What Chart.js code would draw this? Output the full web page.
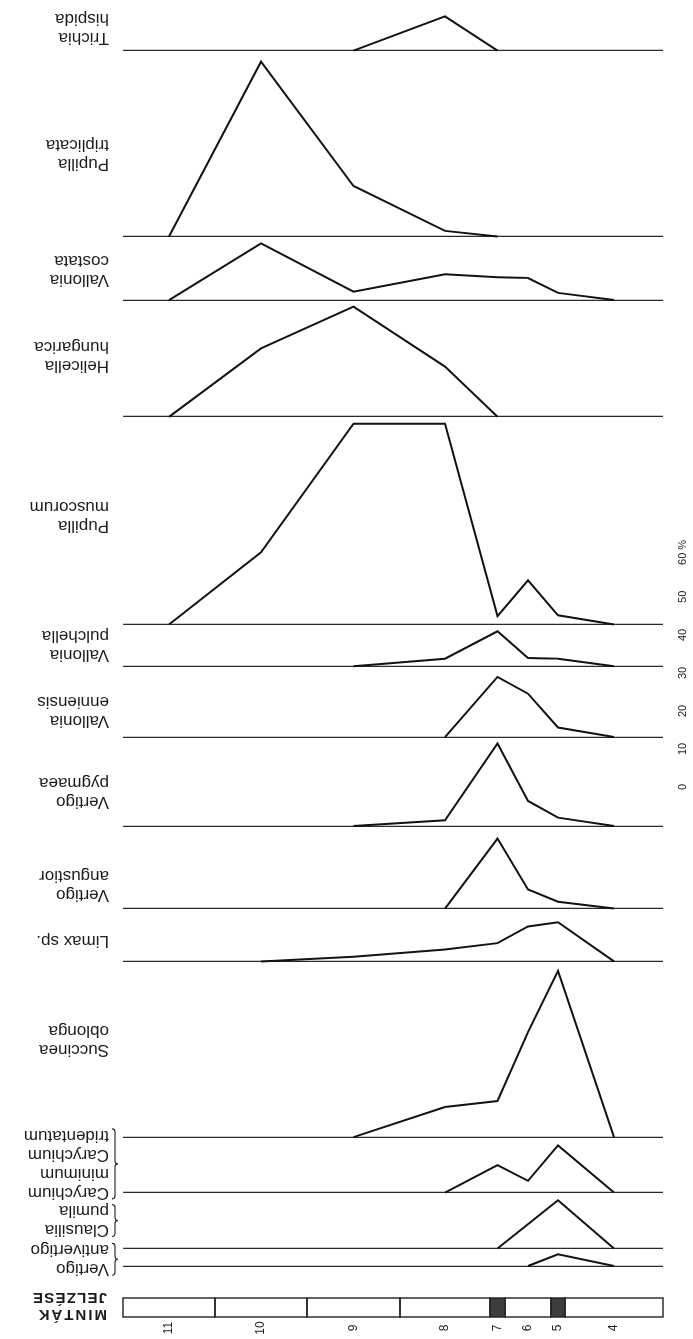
<!DOCTYPE html>
<html lang="hu">
<head>
<meta charset="utf-8">
<title>Csigafauna megoszlása a mintákban</title>
<script src="https://cdn.jsdelivr.net/npm/chart.js@4.4.1/dist/chart.umd.min.js"></script>
<style>
  html, body { margin: 0; padding: 0; background: #fff; }
  #wrap { width: 693px; height: 1339px; transform: rotate(180deg); }
  canvas { display: block; }
</style>
</head>
<body>
<div id="wrap"><canvas id="c" width="693" height="1339"></canvas></div>
<script>
// Sample designations of the profile and the thickness of each layer
const samples = ['4', '5', '6', '7', '8', '9', '10', '11'];
const layerThickness = [98, 14, 46, 15, 90, 93, 92, 92];
const darkLayers = ['5', '7'];

// Percentage of each taxon per sample (same order as `samples`; null = absent)
const vertigoAntivertigo = [0, 3.1, 0, null, null, null, null, null];
const clausiliaPumila    = [0, 12.7, null, 0, null, null, null, null];
const carychium          = [0, 12.4, 3.1, 7.2, 0, null, null, null];
const succineaOblonga    = [0, 43.7, 27.6, 9.5, 7.9, 0, null, null];
const limaxSp            = [0, 10.3, 9.2, 4.8, 3.1, 1.2, 0, null];
const vertigoAngustior   = [0, 1.8, 5.0, 18.4, 0, null, null, null];
const vertigoPygmaea     = [0, 2.2, 6.6, 21.7, 1.5, 0, null, null];
const valloniaEnniensis  = [0, 2.5, 11.4, 15.8, 0, null, null, null];
const valloniaPulchella  = [0, 2.0, 2.2, 9.2, 2.0, 0, null, null];
const pupillaMuscorum    = [0, 2.4, 11.6, 2.2, 52.8, 52.8, 19.0, 0];
const helicellaHungarica = [null, null, null, 0, 13.2, 29.0, 18.0, 0];
const valloniaCostata    = [0, 1.9, 5.8, 6.0, 6.8, 2.2, 14.9, 0];
const pupillaTriplicata  = [null, null, null, 0, 1.5, 13.3, 46.0, 0];
const trichiaHispida     = [null, null, null, 0, 9.0, 0, null, null];

// Percent scale bar
const scaleTicks = [0, 10, 20, 30, 40, 50, 60];

// Taxon names (line breaks as printed)
const taxonNames = [
  'Vertigo\nantivertigo', 'Clausilia\npumila', 'Carychium\nminimum\nCarychium\ntridentatum',
  'Succinea\noblonga', 'Limax sp.', 'Vertigo\nangustior', 'Vertigo\npygmaea',
  'Vallonia\nenniensis', 'Vallonia\npulchella', 'Pupilla\nmuscorum', 'Helicella\nhungarica',
  'Vallonia\ncostata', 'Pupilla\ntriplicata', 'Trichia\nhispida'
];
const taxonValues = [
  vertigoAntivertigo, clausiliaPumila, carychium, succineaOblonga, limaxSp,
  vertigoAngustior, vertigoPygmaea, valloniaEnniensis, valloniaPulchella,
  pupillaMuscorum, helicellaHungarica, valloniaCostata, pupillaTriplicata, trichiaHispida
];

// ---- layout / style ----
// Height (in %) reserved for each taxon strip, top to bottom
const stripRange = [4.6, 14.7, 14.6, 46.2, 13.9, 21.7, 23.4, 18.6, 11.0, 54.6, 30.7, 16.7, 48.9, 12.0];
const braced = [true, true, true];           // first three taxa carry a brace
const labelNudge = [-2, 0, 1, 9, -6, -18, -11, -10, 0, 4, 2, -2, -11, 0];
const LABEL_X = 584, LINE_H = 19;
const INK = '#1c1c1c';

// layer boundaries and sample positions along the column
const layerStart = [];
let acc = 0;
layerThickness.forEach(t => { layerStart.push(acc); acc += t; });
const columnLength = acc;
const samplePos = layerThickness.map((t, i) => layerStart[i] + t / 2);

const datasets = taxonValues.map((vals, i) => ({
  type: 'line',
  label: taxonNames[i].replace(/\n/g, ' '),
  data: vals.map((v, j) => ({ x: samplePos[j], y: v })),
  xAxisID: 'x',
  yAxisID: 'p' + i,
  borderColor: '#121212',
  borderWidth: 2,
  pointRadius: 0,
  tension: 0,
  spanGaps: true,
  fill: false,
  clip: false
}));

const scales = { x: { type: 'linear', min: 0, max: columnLength, display: false } };
taxonValues.forEach((_, i) => {
  scales['p' + i] = {
    type: 'linear',
    position: 'right',
    stack: 'taxa',
    stackWeight: stripRange[i],
    min: 0,
    max: stripRange[i],
    reverse: true,
    ticks: { display: false },
    border: { display: false },
    grid: {
      drawTicks: false,
      lineWidth: 1.2,
      color: c => (c.tick && c.tick.value === 0) ? '#2a2a2a' : 'rgba(0,0,0,0)'
    }
  };
});

function brace(ctx, x, y1, y2, w) {
  const ym = (y1 + y2) / 2;
  ctx.beginPath();
  ctx.moveTo(x + w, y1);
  ctx.quadraticCurveTo(x, y1, x, y1 + w);
  ctx.lineTo(x, ym - w);
  ctx.quadraticCurveTo(x, ym, x - w, ym);
  ctx.quadraticCurveTo(x, ym, x, ym + w);
  ctx.lineTo(x, y2 - w);
  ctx.quadraticCurveTo(x, y2, x + w, y2);
  ctx.stroke();
}

const decor = {
  id: 'decor',
  afterDraw(chart) {
    const ctx = chart.ctx;
    const xs = chart.scales.x;
    ctx.save();

    // sample column
    const boxTop = 22, boxBottom = 41;
    ctx.lineWidth = 1.4;
    ctx.strokeStyle = '#222';
    samples.forEach((s, i) => {
      const a = xs.getPixelForValue(layerStart[i]);
      const b = xs.getPixelForValue(layerStart[i] + layerThickness[i]);
      if (darkLayers.includes(s)) {
        ctx.fillStyle = '#3d3d3d';
        ctx.fillRect(a, boxTop, b - a, boxBottom - boxTop);
      }
      ctx.strokeRect(a, boxTop, b - a, boxBottom - boxTop);
    });

    // sample numbers
    ctx.fillStyle = INK;
    ctx.font = '12px "Liberation Sans", Arial, sans-serif';
    ctx.textAlign = 'center';
    ctx.textBaseline = 'middle';
    samples.forEach((s, i) => {
      ctx.save();
      ctx.translate(xs.getPixelForValue(samplePos[i]), 11);
      ctx.rotate(Math.PI / 2);
      ctx.fillText(s, 0, 0);
      ctx.restore();
    });

    // column heading
    ctx.font = 'bold 15px "Liberation Sans", Arial, sans-serif';
    ctx.textAlign = 'left';
    ctx.letterSpacing = '2px';
    ctx.fillText('MINTÁK', 586, 25);
    ctx.letterSpacing = '1.2px';
    ctx.fillText('JELZÉSE', 586, 42);
    ctx.letterSpacing = '0px';

    // percent scale bar
    const ref = chart.scales.p0;
    const unit = ref.getPixelForValue(1) - ref.getPixelForValue(0);
    const origin = 552;
    ctx.font = '11px "Liberation Sans", Arial, sans-serif';
    scaleTicks.forEach((t, k) => {
      const txt = String(t);
      ctx.save();
      ctx.translate(10, origin + t * unit);
      ctx.rotate(Math.PI / 2);
      ctx.textAlign = 'center';
      ctx.fillText(txt, 0, 0);
      if (k === scaleTicks.length - 1) {
        ctx.textAlign = 'left';
        ctx.fillText('%', ctx.measureText(txt).width / 2 + 3, 0);
      }
      ctx.restore();
    });

    // taxon names
    ctx.font = '17px "Liberation Sans", Arial, sans-serif';
    ctx.textAlign = 'left';
    ctx.textBaseline = 'middle';
    ctx.lineWidth = 1.1;
    taxonNames.forEach((name, i) => {
      const sc = chart.scales['p' + i];
      const lines = name.split('\n');
      const cy = (sc.top + sc.bottom) / 2 + labelNudge[i];
      const y0 = cy - (lines.length - 1) * LINE_H / 2;
      lines.forEach((ln, k) => ctx.fillText(ln, LABEL_X, y0 + k * LINE_H));
      if (braced[i]) {
        brace(ctx, 578, y0 - LINE_H / 2 + 3, y0 + (lines.length - 1) * LINE_H + LINE_H / 2 - 3, 3);
      }
    });

    ctx.restore();
  }
};

new Chart(document.getElementById('c'), {
  type: 'line',
  data: { datasets },
  options: {
    responsive: false,
    animation: false,
    devicePixelRatio: 1,
    layout: { padding: { top: 73, bottom: 5, left: 30, right: 123 } },
    scales,
    plugins: { legend: { display: false }, tooltip: { enabled: false } },
    events: []
  },
  plugins: [decor]
});
</script>
</body>
</html>
